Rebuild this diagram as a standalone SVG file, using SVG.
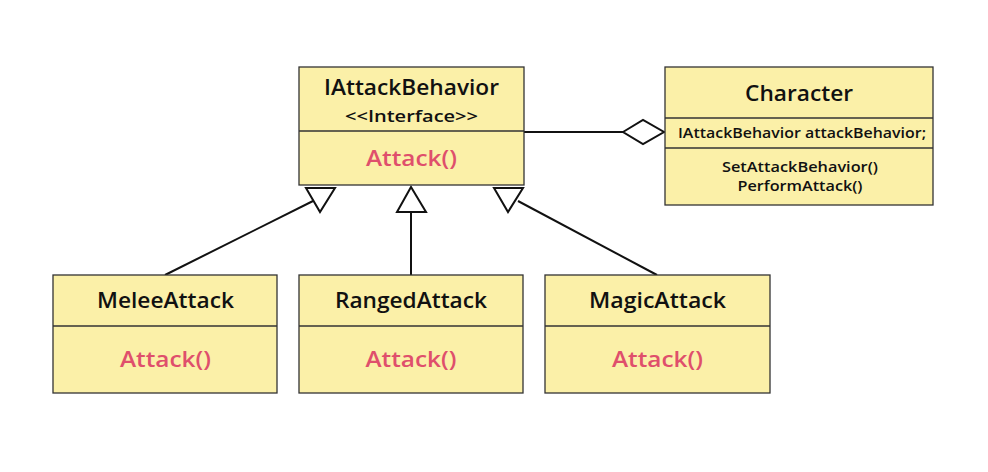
<svg xmlns="http://www.w3.org/2000/svg" width="988" height="472" viewBox="0 0 988 472">
<style>
.box{fill:#fbf0a8;stroke:#333;stroke-width:1.3}
.div{stroke:#333;stroke-width:1.3;fill:none}
.t{font-family:"Open Sans","Noto Sans",sans-serif;text-anchor:middle;fill:#111}
.title{font-size:21px;font-weight:600}
.m{font-size:21px;font-weight:600;fill:#df4f6c}
.s{font-size:16px;font-weight:600}
.a{font-size:13.5px;font-weight:600}
.c{stroke:#111;stroke-width:2;fill:none}
.h{stroke:#111;stroke-width:2;fill:#fff}
</style>
<rect width="988" height="472" fill="#fff"/>
<g id="connectors">
<line class="c" x1="165" y1="275" x2="313" y2="201"/>
<polygon class="h" points="306,188 335,188 320,212"/>
<line class="c" x1="411" y1="275" x2="411" y2="212"/>
<polygon class="h" points="397,212 426,212 411,187"/>
<line class="c" x1="657" y1="275" x2="518" y2="201"/>
<polygon class="h" points="494,188 523,188 508,212"/>
<line class="c" x1="524" y1="132" x2="623" y2="132"/>
<polygon class="h" points="623,132 643,120 664,132 643,144"/>
</g>
<g id="IAttackBehavior">
<rect class="box" x="299" y="67" width="225" height="118"/>
<line class="div" x1="299" y1="131" x2="524" y2="131"/>
<text class="t title" x="411.5" y="95" textLength="175" lengthAdjust="spacingAndGlyphs">IAttackBehavior</text>
<text class="t s" x="411.5" y="122" textLength="133" lengthAdjust="spacingAndGlyphs">&lt;&lt;Interface&gt;&gt;</text>
<text class="t m" x="411.5" y="166" textLength="91" lengthAdjust="spacingAndGlyphs">Attack()</text>
</g>
<g id="Character">
<rect class="box" x="665" y="67" width="268" height="138"/>
<line class="div" x1="665" y1="118" x2="933" y2="118"/>
<line class="div" x1="665" y1="148" x2="933" y2="148"/>
<text class="t title" x="799" y="101" textLength="108" lengthAdjust="spacingAndGlyphs">Character</text>
<text class="t a" x="802" y="138" textLength="248" lengthAdjust="spacingAndGlyphs">IAttackBehavior attackBehavior;</text>
<text class="t a" x="800" y="172" textLength="156" lengthAdjust="spacingAndGlyphs">SetAttackBehavior()</text>
<text class="t a" x="800" y="191" textLength="125" lengthAdjust="spacingAndGlyphs">PerformAttack()</text>
</g>
<g id="MeleeAttack">
<rect class="box" x="53" y="275" width="224" height="118"/>
<line class="div" x1="53" y1="326" x2="277" y2="326"/>
<text class="t title" x="165.5" y="308" textLength="137" lengthAdjust="spacingAndGlyphs">MeleeAttack</text>
<text class="t m" x="165.5" y="367" textLength="91" lengthAdjust="spacingAndGlyphs">Attack()</text>
</g>
<g id="RangedAttack">
<rect class="box" x="299" y="275" width="224" height="118"/>
<line class="div" x1="299" y1="326" x2="523" y2="326"/>
<text class="t title" x="411" y="308" textLength="152" lengthAdjust="spacingAndGlyphs">RangedAttack</text>
<text class="t m" x="411" y="367" textLength="91" lengthAdjust="spacingAndGlyphs">Attack()</text>
</g>
<g id="MagicAttack">
<rect class="box" x="545" y="275" width="225" height="118"/>
<line class="div" x1="545" y1="326" x2="770" y2="326"/>
<text class="t title" x="657.5" y="308" textLength="137" lengthAdjust="spacingAndGlyphs">MagicAttack</text>
<text class="t m" x="657.5" y="367" textLength="91" lengthAdjust="spacingAndGlyphs">Attack()</text>
</g>
</svg>
